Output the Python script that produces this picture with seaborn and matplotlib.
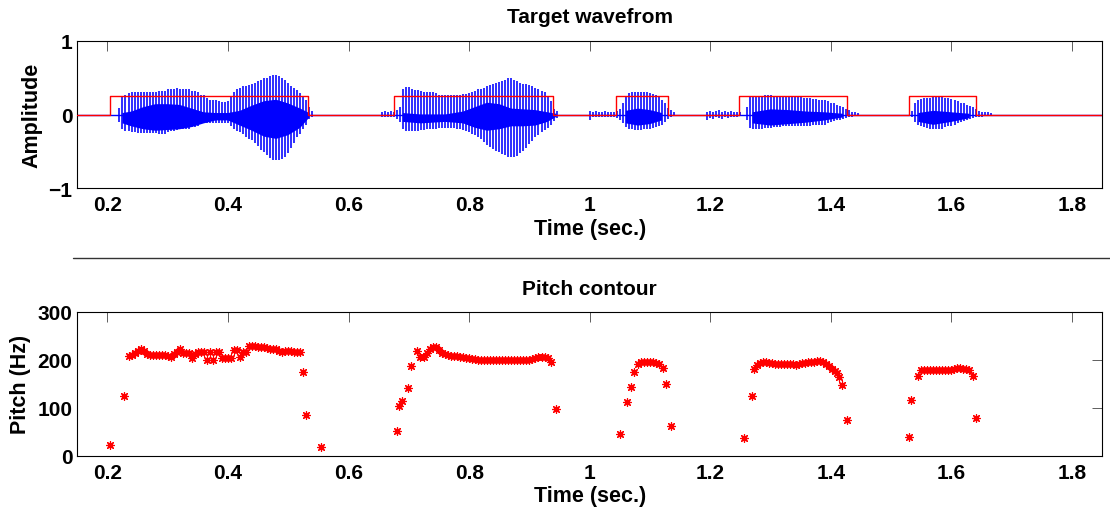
import numpy as np
import matplotlib
matplotlib.use("Agg")
import matplotlib.pyplot as plt
from matplotlib.lines import Line2D
import seaborn as sns

# ---- data ----
# waveform: one stroke per pitch pulse (upper / lower tip), pulses every 5 ms
pulse_step = 0.005
seg_start = [0.220, 0.680, 1.045, 1.260, 1.535, 0.655, 1.000, 1.195]

wave_hi_1 = [0.09, 0.24, 0.27, 0.29, 0.30, 0.30, 0.31, 0.31, 0.31, 0.31,
             0.31, 0.31, 0.31, 0.32, 0.32, 0.32, 0.34, 0.35, 0.35, 0.36,
             0.35, 0.35, 0.35, 0.34, 0.32, 0.32, 0.30, 0.27, 0.26, 0.23,
             0.20, 0.19, 0.19, 0.18, 0.17, 0.17, 0.18, 0.24, 0.31, 0.35,
             0.36, 0.38, 0.39, 0.40, 0.42, 0.43, 0.45, 0.47, 0.49, 0.50,
             0.52, 0.53, 0.53, 0.52, 0.50, 0.47, 0.43, 0.39, 0.36, 0.33,
             0.29, 0.25, 0.20, 0.10, 0.05]
wave_lo_1 = [-0.10, -0.20, -0.22, -0.23, -0.24, -0.24, -0.25, -0.25, -0.25, -0.25,
             -0.25, -0.25, -0.25, -0.26, -0.26, -0.26, -0.24, -0.22, -0.22, -0.21,
             -0.20, -0.20, -0.20, -0.19, -0.17, -0.17, -0.15, -0.13, -0.12, -0.11,
             -0.11, -0.11, -0.11, -0.12, -0.12, -0.12, -0.12, -0.15, -0.19, -0.22,
             -0.24, -0.27, -0.31, -0.33, -0.35, -0.38, -0.43, -0.48, -0.51, -0.55,
             -0.59, -0.61, -0.62, -0.61, -0.60, -0.57, -0.52, -0.46, -0.39, -0.31,
             -0.26, -0.20, -0.14, -0.06, -0.03]

wave_hi_2 = [0.06, 0.10, 0.35, 0.37, 0.37, 0.35, 0.33, 0.33, 0.32, 0.31,
             0.30, 0.30, 0.30, 0.29, 0.27, 0.26, 0.26, 0.26, 0.26, 0.26,
             0.27, 0.27, 0.28, 0.28, 0.29, 0.30, 0.32, 0.34, 0.35, 0.36,
             0.38, 0.40, 0.42, 0.43, 0.44, 0.46, 0.47, 0.49, 0.49, 0.47,
             0.45, 0.43, 0.42, 0.41, 0.40, 0.38, 0.36, 0.34, 0.32, 0.30,
             0.25, 0.18, 0.08, 0.05]
wave_lo_2 = [-0.06, -0.10, -0.20, -0.22, -0.22, -0.22, -0.22, -0.22, -0.21, -0.21,
             -0.20, -0.20, -0.20, -0.19, -0.18, -0.18, -0.18, -0.18, -0.18, -0.18,
             -0.19, -0.20, -0.21, -0.22, -0.24, -0.27, -0.28, -0.30, -0.33, -0.37,
             -0.41, -0.44, -0.47, -0.49, -0.51, -0.53, -0.55, -0.57, -0.58, -0.57,
             -0.56, -0.52, -0.49, -0.45, -0.40, -0.36, -0.31, -0.28, -0.24, -0.21,
             -0.18, -0.14, -0.09, -0.05]

wave_hi_3 = [0.05, 0.08, 0.16, 0.25, 0.29, 0.30, 0.30, 0.30, 0.30, 0.30,
             0.30, 0.29, 0.28, 0.26, 0.24, 0.20, 0.15, 0.09, 0.06, 0.03]
wave_lo_3 = [-0.05, -0.08, -0.12, -0.17, -0.19, -0.20, -0.21, -0.21, -0.21, -0.20,
             -0.20, -0.19, -0.18, -0.17, -0.16, -0.14, -0.10, -0.06, -0.04, -0.02]

wave_hi_4 = [0.10, 0.24, 0.25, 0.25, 0.25, 0.25, 0.26, 0.26, 0.26, 0.25,
             0.25, 0.25, 0.24, 0.24, 0.24, 0.24, 0.24, 0.24, 0.24, 0.23,
             0.22, 0.22, 0.21, 0.21, 0.20, 0.20, 0.20, 0.18, 0.16, 0.15,
             0.13, 0.12, 0.10, 0.08, 0.06, 0.04, 0.03, 0.02]
wave_lo_4 = [-0.08, -0.18, -0.19, -0.19, -0.19, -0.19, -0.18, -0.18, -0.18, -0.17,
             -0.17, -0.17, -0.16, -0.16, -0.16, -0.16, -0.16, -0.16, -0.16, -0.15,
             -0.15, -0.15, -0.14, -0.14, -0.14, -0.14, -0.14, -0.12, -0.10, -0.09,
             -0.08, -0.07, -0.06, -0.05, -0.04, -0.03, -0.02, -0.02]

wave_hi_5 = [0.05, 0.15, 0.20, 0.21, 0.22, 0.22, 0.23, 0.24, 0.24, 0.24,
             0.24, 0.23, 0.22, 0.21, 0.20, 0.18, 0.16, 0.15, 0.13, 0.11,
             0.10, 0.07, 0.05, 0.04, 0.03, 0.03, 0.02]
wave_lo_5 = [-0.04, -0.10, -0.14, -0.15, -0.17, -0.18, -0.19, -0.20, -0.20, -0.20,
             -0.19, -0.17, -0.16, -0.15, -0.14, -0.12, -0.10, -0.09, -0.07, -0.06,
             -0.05, -0.04, -0.03, -0.03, -0.02, -0.02, -0.01]

# low-level noise bursts between words
noise_hi_1 = [0.04, 0.05, 0.04, 0.05, 0.04]
noise_lo_1 = [-0.03, -0.04, -0.04, -0.03, -0.04]
noise_hi_2 = [0.05, 0.04, 0.05, 0.04, 0.04, 0.05, 0.04, 0.04, 0.03]
noise_lo_2 = [-0.08, -0.03, -0.04, -0.03, -0.04, -0.03, -0.03, -0.04, -0.03]
noise_hi_3 = [0.04, 0.05, 0.04, 0.05, 0.06, 0.04, 0.05, 0.04, 0.05, 0.04, 0.03, 0.03]
noise_lo_3 = [-0.08, -0.05, -0.06, -0.04, -0.05, -0.06, -0.04, -0.05, -0.04, -0.03, -0.03, -0.02]

# solid core of the waveform (dense small oscillations)
body_t = [0.225, 0.24, 0.26, 0.28, 0.30, 0.32, 0.34, 0.36, 0.38, 0.40, 0.42, 0.44,
          0.46, 0.48, 0.50, 0.52, 0.535, np.nan,
          0.69, 0.72, 0.76, 0.79, 0.81, 0.83, 0.85, 0.87, 0.89, 0.91, 0.93, 0.945, np.nan,
          1.06, 1.08, 1.10, 1.12, np.nan,
          1.27, 1.30, 1.33, 1.36, 1.39, 1.42, np.nan,
          1.545, 1.57, 1.60, 1.63]
body_hi = [0.02, 0.04, 0.10, 0.14, 0.14, 0.13, 0.08, 0.03, 0.02, 0.02, 0.05, 0.12,
           0.18, 0.20, 0.15, 0.08, 0.02, np.nan,
           0.02, 0.00, 0.00, 0.04, 0.10, 0.16, 0.14, 0.08, 0.07, 0.06, 0.03, 0.01, np.nan,
           0.05, 0.08, 0.06, 0.02, np.nan,
           0.03, 0.07, 0.06, 0.04, 0.03, 0.01, np.nan,
           0.02, 0.05, 0.03, 0.01]
body_lo = [-0.12, -0.16, -0.20, -0.22, -0.21, -0.20, -0.17, -0.12, -0.08, -0.08, -0.15, -0.22,
           -0.30, -0.33, -0.28, -0.18, -0.04, np.nan,
           -0.10, -0.12, -0.10, -0.12, -0.18, -0.22, -0.20, -0.16, -0.16, -0.15, -0.10, -0.03, np.nan,
           -0.12, -0.15, -0.13, -0.08, np.nan,
           -0.12, -0.15, -0.13, -0.11, -0.08, -0.04, np.nan,
           -0.10, -0.14, -0.10, -0.05]

# endpoint detection boxes (red)
box_start = [0.204, 0.676, 1.044, 1.248, 1.529]
box_end = [0.533, 0.939, 1.129, 1.426, 1.640]
box_level = 0.25

# pitch contour (Hz)
pitch_time = [
    0.205, 0.227, 0.235, 0.240, 0.245, 0.250, 0.255, 0.260, 0.265, 0.270, 0.275, 0.280,
    0.285, 0.290, 0.295, 0.300, 0.305, 0.310, 0.315, 0.320, 0.325, 0.330, 0.335, 0.340,
    0.345, 0.350, 0.355, 0.360, 0.365, 0.370, 0.375, 0.380, 0.385, 0.390, 0.395, 0.400,
    0.405, 0.410, 0.415, 0.420, 0.425, 0.430, 0.435, 0.440, 0.445, 0.450, 0.455, 0.460,
    0.465, 0.470, 0.475, 0.480, 0.485, 0.490, 0.495, 0.500, 0.505, 0.510, 0.515, 0.520,
    0.525, 0.530, 0.555,
    0.680, 0.683, 0.688, 0.698, 0.704, 0.713, 0.719, 0.725, 0.730, 0.735, 0.740, 0.745,
    0.750, 0.755, 0.760, 0.765, 0.770, 0.775, 0.780, 0.785, 0.790, 0.795, 0.800, 0.805,
    0.810, 0.815, 0.820, 0.825, 0.830, 0.835, 0.840, 0.845, 0.850, 0.855, 0.860, 0.865,
    0.870, 0.875, 0.880, 0.885, 0.890, 0.895, 0.900, 0.905, 0.910, 0.915, 0.920, 0.925,
    0.930, 0.935, 0.944,
    1.050, 1.061, 1.068, 1.074, 1.080, 1.085, 1.090, 1.095, 1.100, 1.105, 1.110, 1.115,
    1.122, 1.127, 1.134,
    1.256, 1.269, 1.273, 1.277, 1.282, 1.287, 1.292, 1.297, 1.302, 1.307, 1.312, 1.317,
    1.322, 1.327, 1.332, 1.337, 1.342, 1.347, 1.352, 1.357, 1.362, 1.367, 1.372, 1.377,
    1.382, 1.387, 1.392, 1.397, 1.402, 1.406, 1.410, 1.414, 1.419, 1.426,
    1.529, 1.533, 1.545, 1.549, 1.554, 1.559, 1.564, 1.569, 1.574, 1.579, 1.584, 1.589,
    1.594, 1.599, 1.604, 1.609, 1.614, 1.619, 1.624, 1.629, 1.635, 1.641]
pitch_hz = [
    23, 125, 207, 209, 214, 219, 222, 218, 212, 210, 210, 210,
    210, 210, 210, 208, 206, 212, 216, 222, 213, 213, 213, 203,
    212, 217, 217, 217, 199, 217, 199, 217, 217, 203, 203, 203,
    203, 220, 220, 205, 217, 217, 228, 228, 228, 227, 226, 226,
    225, 222, 222, 222, 219, 217, 218, 219, 218, 216, 217, 216,
    174, 85, 18,
    51, 103, 113, 140, 186, 219, 205, 205, 213, 222, 226, 226,
    220, 213, 211, 209, 207, 207, 207, 206, 205, 203, 203, 202,
    202, 200, 200, 200, 200, 200, 200, 200, 200, 200, 200, 200,
    200, 200, 200, 200, 200, 200, 200, 201, 203, 205, 206, 205,
    203, 195, 97,
    45, 111, 144, 174, 192, 196, 196, 196, 196, 195, 193, 190,
    182, 149, 62,
    36, 125, 181, 188, 193, 195, 196, 194, 193, 192, 192, 192,
    192, 192, 192, 191, 188, 190, 193, 194, 195, 196, 196, 197,
    197, 195, 192, 187, 180, 177, 172, 163, 147, 74,
    40, 116, 165, 178, 178, 178, 178, 178, 178, 178, 178, 178,
    178, 179, 180, 182, 182, 181, 180, 179, 167, 79]

x_ticks = [0.2, 0.4, 0.6, 0.8, 1.0, 1.2, 1.4, 1.6, 1.8]
x_tick_labels = ['0.2', '0.4', '0.6', '0.8', '1', '1.2', '1.4', '1.6', '1.8']
amp_ticks = [-1, 0, 1]
amp_tick_labels = ['\u22121', '0', '1']
pitch_ticks = [0, 100, 200, 300]

# ---- style ----
sns.set_style('white')
plt.rcParams['font.family'] = ['Liberation Sans', 'DejaVu Sans']
plt.rcParams['font.weight'] = 'bold'
plt.rcParams['text.color'] = 'black'
plt.rcParams['axes.labelcolor'] = 'black'
plt.rcParams['xtick.color'] = 'black'
plt.rcParams['ytick.color'] = 'black'

fig = plt.figure(figsize=(11.1, 5.1), dpi=100)
ax1 = fig.add_axes([0.0696, 0.6288, 0.9234, 0.2894])
ax2 = fig.add_axes([0.0696, 0.1045, 0.9234, 0.2824])

# ---- waveform panel ----
his = [wave_hi_1, wave_hi_2, wave_hi_3, wave_hi_4, wave_hi_5, noise_hi_1, noise_hi_2, noise_hi_3]
los = [wave_lo_1, wave_lo_2, wave_lo_3, wave_lo_4, wave_lo_5, noise_lo_1, noise_lo_2, noise_lo_3]
ax1.axhline(0, color='blue', lw=1.0, zorder=1)
for start, hi, lo in zip(seg_start, his, los):
    t = start + pulse_step * np.arange(len(hi))
    ax1.vlines(t, lo, hi, color='blue', lw=1.15, zorder=2)
ax1.fill_between(body_t, body_lo, body_hi, color='blue', lw=0, zorder=2)

step_t = [0.15]
step_v = [0.0]
for s, e in zip(box_start, box_end):
    step_t += [s, s, e, e]
    step_v += [0.0, box_level, box_level, 0.0]
step_t.append(1.85)
step_v.append(0.0)
ax1.plot(step_t, step_v, color='red', lw=1.0, zorder=3)

ax1.set_xlim(0.15, 1.85)
ax1.set_ylim(-1, 1)
ax1.set_yticks(amp_ticks)
ax1.set_yticklabels(amp_tick_labels)
ax1.set_title('Target wavefrom', fontsize=15, fontweight='bold', pad=13.5)
ax1.set_ylabel('Amplitude', fontsize=15.5, fontweight='bold')
ax1.yaxis.set_label_coords(-0.0344, 0.5)

# ---- pitch panel ----
sns.scatterplot(x=pitch_time, y=pitch_hz, ax=ax2, marker=(8, 2, 0), s=30,
                color='red', edgecolor='red', linewidth=0.9, zorder=3)
ax2.set_xlim(0.15, 1.85)
ax2.set_ylim(0, 300)
ax2.set_yticks(pitch_ticks)
ax2.set_title('Pitch contour', fontsize=15, fontweight='bold', pad=12.7)
ax2.set_ylabel('Pitch (Hz)', fontsize=15.5, fontweight='bold')
ax2.yaxis.set_label_coords(-0.045, 0.5)

for ax in (ax1, ax2):
    ax.set_xticks(x_ticks)
    ax.set_xticklabels(x_tick_labels)
    ax.set_xlabel('Time (sec.)', fontsize=15.5, fontweight='bold')
    ax.xaxis.set_label_coords(0.5, -0.202)
    ax.tick_params(direction='in', length=7.4, width=0.6, color='#444444',
                   labelcolor='black', top=True, right=True, labelsize=15)
    ax.tick_params(axis='x', pad=5)
    ax.tick_params(axis='y', pad=3.5)
    for lab in ax.get_xticklabels() + ax.get_yticklabels():
        lab.set_fontweight('bold')
    for sp in ax.spines.values():
        sp.set_visible(True)
        sp.set_color('black')
        sp.set_linewidth(0.8)
    ax.grid(False)

# separator line between the two panels
fig.add_artist(Line2D([73 / 1110, 1.0], [1 - 259.3 / 510] * 2,
                      transform=fig.transFigure, color='#333333', lw=1.0))

fig.savefig('out.png', dpi=100)
